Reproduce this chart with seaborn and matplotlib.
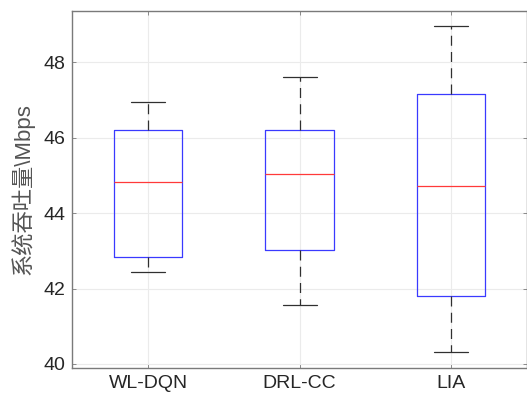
import matplotlib
matplotlib.use("Agg")
import matplotlib.pyplot as plt
import seaborn as sns
import pandas as pd

# Box statistics: [lower whisker, Q1, median, Q3, upper whisker]
methods = ["WL-DQN", "DRL-CC", "LIA"]
wl_dqn = [42.45, 42.83, 44.82, 46.21, 46.95]
drl_cc = [41.57, 43.01, 45.05, 46.20, 47.61]
lia = [40.32, 41.79, 44.71, 47.17, 48.96]
y_ticks = [40, 42, 44, 46, 48]
y_label = "系统吞吐量\\Mbps"

rows = []
for name, vals in zip(methods, [wl_dqn, drl_cc, lia]):
    for v in vals:
        rows.append({"method": name, "value": v})
df = pd.DataFrame(rows)

sns.set_style("white")
plt.rcParams["font.family"] = ["Liberation Sans", "Noto Sans CJK SC", "DejaVu Sans"]

fig = plt.figure(figsize=(5.27, 4.04), dpi=100)
ax = fig.add_axes([0.137, 0.089, 0.863, 0.885])

sns.boxplot(
    data=df, x="method", y="value", order=methods, ax=ax,
    fill=False, width=0.45, whis=10, showfliers=False,
    boxprops=dict(color="#3a3aff", linewidth=0.9),
    medianprops=dict(color="#ff3a3a", linewidth=0.9),
    whiskerprops=dict(color="#303030", linewidth=0.9, linestyle=(0, (8, 5))),
    capprops=dict(color="#303030", linewidth=0.9),
)

ax.set_xlim(-0.5, 2.5)
ax.set_ylim(39.89, 49.38)
ax.set_yticks(y_ticks)
ax.set_xlabel("")
ax.set_ylabel(y_label, family=["Liberation Sans", "Noto Sans CJK SC", "DejaVu Sans"],
              fontsize=16, color="#555555", labelpad=6)
ax.grid(True, color="#ebebeb", linewidth=0.8)
ax.set_axisbelow(True)
for s in ax.spines.values():
    s.set_visible(True)
    s.set_color("#7a7a7a")
    s.set_linewidth(1.0)
ax.tick_params(direction="in", length=3, width=0.6, colors="#7a7a7a",
               labelsize=14, top=True, right=True, left=True, bottom=True,
               labelcolor="#262626", pad=5)
fig.savefig("out.png", dpi=100)
